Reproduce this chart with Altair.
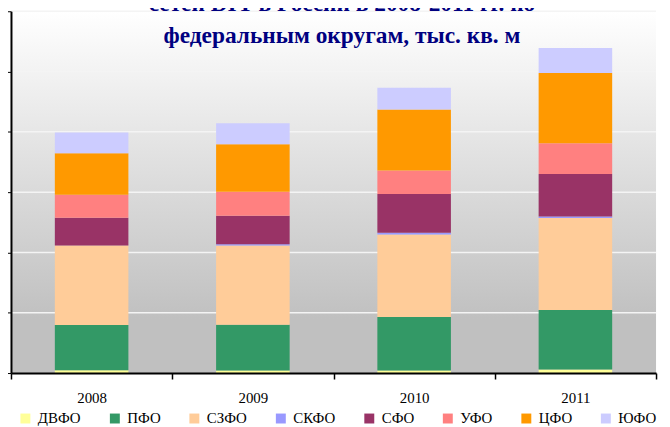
import altair as alt
import pandas as pd

years = ["2008", "2009", "2010", "2011"]
regions = ["ДВФО", "ПФО", "СЗФО", "СКФО", "СФО", "УФО", "ЦФО", "ЮФО"]
colors = ["#FFFF99", "#339966", "#FFCC99", "#9999FF", "#993366", "#FF8080", "#FF9900", "#CCCCFF"]

dvfo = [23, 21, 21, 29]
pfo = [376, 379, 444, 494]
szfo = [658, 658, 683, 763]
skfo = [0, 11, 16, 13]
sfo = [230, 236, 321, 351]
ufo = [192, 198, 195, 255]
cfo = [343, 395, 505, 584]
yufo = [173, 173, 181, 206]

grid_values = [0, 500, 1000, 1500, 2000, 2500, 3000]
title_line1 = "сетей DIY в России в 2008-2011 гг. по"
title_line2 = "федеральным округам, тыс. кв. м"

series = [dvfo, pfo, szfo, skfo, sfo, ufo, cfo, yufo]
rows = []
for i, (reg, vals) in enumerate(zip(regions, series)):
    for y, v in zip(years, vals):
        rows.append({"year": y, "region": reg, "value": v, "idx": i})
df = pd.DataFrame(rows)

W, H = 649, 364

y_axis = alt.Axis(
    title=None, labels=False, values=grid_values, grid=False,
    domainColor="black", domainWidth=2,
    tickColor="black", tickSize=5, tickWidth=1, zindex=1,
)
y_scale = alt.Scale(domain=[0, 3000], nice=False)

bg = alt.Chart(pd.DataFrame({"a": [0]})).mark_rect(
    fill=alt.LinearGradient(
        gradient="linear",
        stops=[
            alt.GradientStop(color="#ffffff", offset=0),
            alt.GradientStop(color="#c0c0c0", offset=0.85),
            alt.GradientStop(color="#c0c0c0", offset=1),
        ],
        x1=0, x2=0, y1=0, y2=1,
    )
).encode(x=alt.value(0), x2=alt.value(W), y=alt.value(0), y2=alt.value(H))

grid = alt.Chart(pd.DataFrame({"value": grid_values[1:]})).mark_rule(
    color="#f4f4f4", strokeWidth=1.5
).encode(y=alt.Y("value:Q", scale=y_scale, axis=y_axis))

bars = alt.Chart(df).mark_bar(width=74).encode(
    x=alt.X(
        "year:N", sort=years,
        scale=alt.Scale(paddingInner=0, paddingOuter=0),
        axis=alt.Axis(
            title=None, labelAngle=0, tickBand="extent",
            domainColor="black", domainWidth=2,
            tickColor="black", tickWidth=1.5, tickSize=6,
            labelFont="Liberation Serif", labelFontSize=15, labelColor="black",
            labelPadding=12, zindex=1,
        ),
    ),
    y=alt.Y("value:Q", stack="zero", scale=y_scale, axis=y_axis),
    color=alt.Color(
        "region:N",
        scale=alt.Scale(domain=regions, range=colors),
        legend=alt.Legend(
            title=None, orient="none", legendX=7, legendY=402,
            direction="horizontal", symbolType="square", symbolSize=100,
            symbolStrokeWidth=0, symbolOpacity=1,
            labelFont="Liberation Serif", labelFontSize=15, labelColor="black",
            columnPadding=26, labelOffset=5, padding=0,
        ),
    ),
    order=alt.Order("idx:Q", sort="ascending"),
)

t1 = alt.Chart(pd.DataFrame({"t": [title_line1]})).mark_text(
    font="Liberation Serif", fontWeight="bold", fontSize=23.5, color="#000080",
    align="center", baseline="alphabetic",
).encode(x=alt.value(333), y=alt.value(0), text="t:N")

t2 = alt.Chart(pd.DataFrame({"t": [title_line2]})).mark_text(
    font="Liberation Serif", fontWeight="bold", fontSize=23.5, color="#000080",
    align="center", baseline="alphabetic",
).encode(x=alt.value(333), y=alt.value(31.5), text="t:N")

chart = alt.layer(bg, grid, bars, t1, t2).properties(
    width=W, height=H,
    autosize=alt.AutoSizeParams(type="none"),
    padding={"left": 3, "top": 2, "right": 6, "bottom": 52},
    background="white",
).configure_view(stroke=None)

chart.save("out.html", embed_options={"renderer": "svg", "actions": False})
